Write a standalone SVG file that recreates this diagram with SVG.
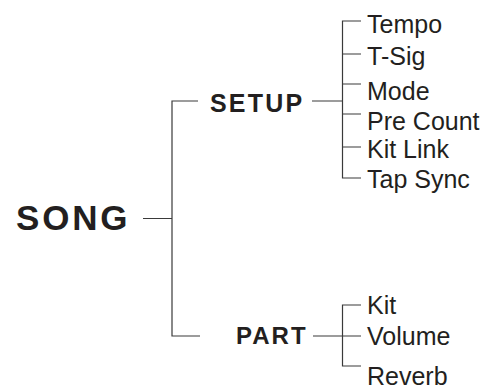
<svg xmlns="http://www.w3.org/2000/svg" width="491" height="389" viewBox="0 0 491 389">
<style>
.t{font-family:"Liberation Sans",Arial,sans-serif;fill:#231f20}
.b{font-weight:bold}
.s{font-size:25px}
.c{fill:none;stroke:#3a3a3a;stroke-width:1.2}
</style>
<rect width="491" height="389" fill="#fff"/>
<g id="connectors" class="c">
<path d="M143,218.5H172M198,101H172V336H200"/>
<path d="M312,101H342.5M361,21H342.5V178H361M342.5,54H361M342.5,84H361M342.5,114H361M342.5,147H361"/>
<path d="M313,336H361M361,305H342.5V366H361"/>
</g>
<g id="song"><text class="t b" x="16" y="230" font-size="35" letter-spacing="2.8">SONG</text></g>
<g id="setup"><text class="t b" x="210" y="111.5" font-size="25" letter-spacing="2.2">SETUP</text></g>
<g id="part"><text class="t b" x="236" y="344" font-size="24" letter-spacing="2">PART</text></g>
<g id="tempo"><text class="t s" x="367" y="33">Tempo</text></g>
<g id="tsig"><text class="t s" x="367" y="65">T-Sig</text></g>
<g id="mode"><text class="t s" x="367" y="100">Mode</text></g>
<g id="precount"><text class="t s" x="367" y="130">Pre Count</text></g>
<g id="kitlink"><text class="t s" x="367" y="158">Kit Link</text></g>
<g id="tapsync"><text class="t s" x="367" y="188">Tap Sync</text></g>
<g id="kit"><text class="t s" x="367" y="314">Kit</text></g>
<g id="volume"><text class="t s" x="367" y="345">Volume</text></g>
<g id="reverb"><text class="t s" x="367" y="385">Reverb</text></g>
</svg>
